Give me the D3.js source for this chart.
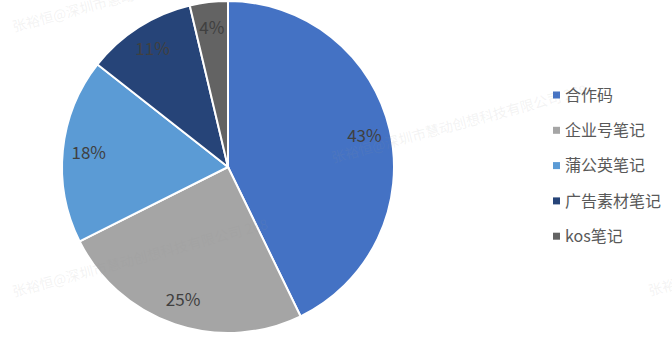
<!DOCTYPE html>
<html>
<head>
<meta charset="utf-8">
<script src="https://cdn.jsdelivr.net/npm/d3@7"></script>
<style>
  body { margin: 0; background: #fff; }
  text { font-family: "Noto Sans CJK SC", "Noto Sans", sans-serif; }
</style>
</head>
<body>
<div id="chart_pie"></div>
<script>
// data
const categories = ["合作码", "企业号笔记", "蒲公英笔记", "广告素材笔记", "kos笔记"];
const shares = [42.8, 24.8, 18.0, 10.7, 3.7];
const colors = ["#4472C4", "#A5A5A5", "#5B9BD5", "#264478", "#636363"];
const watermark = "张裕恒@深圳市慧动创想科技有限公司 268";

const pie = { width: 672, height: 342, cx: 228, cy: 167, radius: 166 };

const svg = d3.select("#chart_pie")
    .append("svg")
    .attr("width", pie.width)
    .attr("height", pie.height);

const data = categories.map((c, i) => ({ key: c, value: shares[i] }));

const arc = d3.arc().innerRadius(0).outerRadius(pie.radius);
const labelArc = d3.arc().innerRadius(140).outerRadius(140);

const d3pie = d3.pie().value(d => d.value).sort(null);
const data_ready = d3pie(data);

const color = d3.scaleOrdinal().domain(categories).range(colors);

const g = svg.append("g")
    .attr("transform", "translate(" + pie.cx + "," + pie.cy + ")");

g.selectAll("path")
    .data(data_ready)
    .enter()
    .append("path")
    .attr("d", arc)
    .attr("fill", d => color(d.data.key))
    .attr("stroke", "white")
    .style("stroke-width", "2px");

g.selectAll(".pieText")
    .data(data_ready)
    .enter()
    .append("text")
    .attr("class", "pieText")
    .attr("transform", d => "translate(" + labelArc.centroid(d) + ")")
    .style("text-anchor", "middle")
    .attr("dy", "0.35em")
    .style("font-size", "17px")
    .attr("fill", "#404040")
    .text(d => Math.round(d.value) + "%");

// legend
const legend = svg.append("g").attr("transform", "translate(553,95)");
const row = legend.selectAll("g")
    .data(categories)
    .enter()
    .append("g")
    .attr("transform", (d, i) => "translate(0," + i * 35.3 + ")");

row.append("rect")
    .attr("x", 0).attr("y", -3.5)
    .attr("width", 7).attr("height", 7)
    .attr("fill", d => color(d));

row.append("text")
    .attr("x", 12)
    .attr("dy", "0.35em")
    .style("font-size", "16px")
    .attr("fill", "#595959")
    .text(d => d);

// faint watermark (runs off the edges, as in the source)
const marks = [[14, 32], [333, 163], [14, 297], [650, 296]];
svg.append("g").selectAll("text")
    .data(marks)
    .enter()
    .append("text")
    .attr("transform", d => "translate(" + d[0] + "," + d[1] + ") rotate(-15)")
    .style("font-size", "14px")
    .attr("fill", "#999")
    .attr("fill-opacity", 0.12)
    .text(watermark);
</script>
</body>
</html>
